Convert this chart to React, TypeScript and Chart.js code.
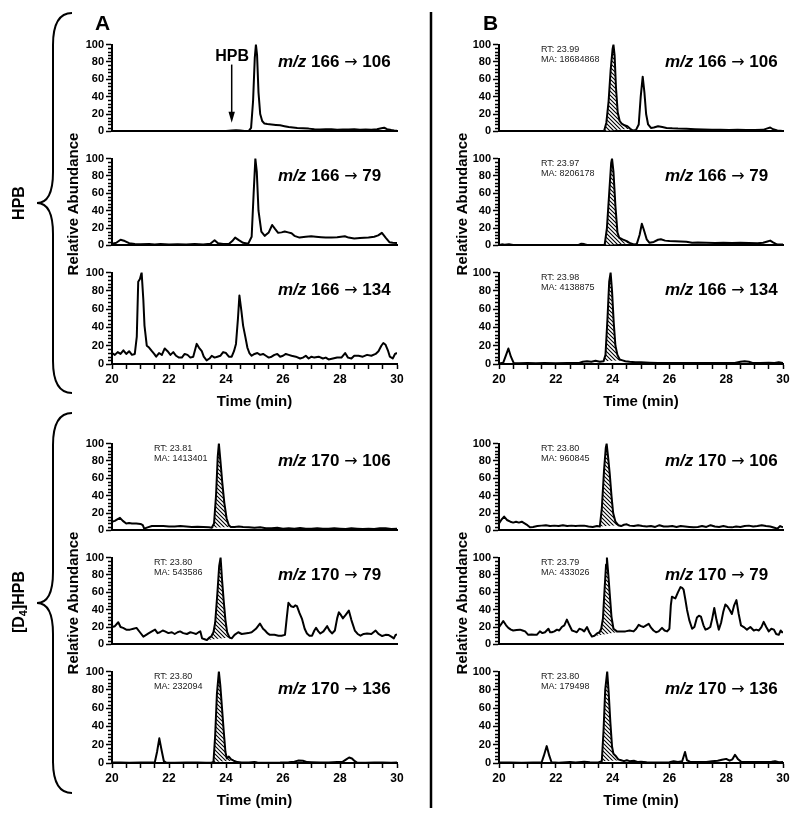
import React, { useEffect, useRef } from "react";
import { Chart, registerables } from "chart.js";

Chart.register(...registerables);
Chart.defaults.font.family = "'Liberation Sans', Arial, sans-serif";
Chart.defaults.color = "#000";

type Pt = [number, number];

// ---------- axis definitions ----------
const TIME_MIN = 20;
const TIME_MAX = 30;
const X_TICK_VALUES = [20, 20.5, 21, 21.5, 22, 22.5, 23, 23.5, 24, 24.5, 25, 25.5, 26, 26.5, 27, 27.5, 28, 28.5, 29, 29.5, 30];
const X_LABEL_TICKS = [20, 22, 24, 26, 28, 30];
const Y_TICK_VALUES = [0, 20, 40, 60, 80, 100];
const Y_MINOR_TICKS = [4, 8, 12, 16, 24, 28, 32, 36, 44, 48, 52, 56, 64, 68, 72, 76, 84, 88, 92, 96];

// ---------- data: column A (sample) ----------
const A_166_106: Pt[] = [[20,0.4],[20.5,0.3],[21,0.4],[21.5,0.3],[22,0.4],[22.5,0.3],[23,0.4],[23.5,0.4],[24,0.5],[24.2,0.9],[24.35,1.3],[24.5,1.0],[24.65,0.5],[24.8,0.6],[24.88,4],[24.95,35],[25.01,85],[25.05,100],[25.09,88],[25.14,45],[25.2,20],[25.27,12],[25.35,9],[25.45,8.5],[25.6,8],[25.75,7.5],[25.9,7],[26.05,6],[26.2,5],[26.35,4.5],[26.5,4],[26.7,3.6],[26.9,3.2],[27.1,2.6],[27.3,2.2],[27.5,2.6],[27.7,2.4],[27.9,2.0],[28.1,2.3],[28.3,2.1],[28.5,2.6],[28.7,2.0],[28.9,2.2],[29.1,2.0],[29.3,2.4],[29.45,3.6],[29.55,4.2],[29.65,2.6],[29.8,1.5],[29.9,1.0],[30,0.8]];
const A_166_79: Pt[] = [[20,2],[20.15,3],[20.3,6.5],[20.45,5],[20.6,2.5],[20.8,1.5],[21,1.2],[21.3,1.5],[21.5,1],[21.7,1.5],[22,1],[22.3,1.3],[22.6,1],[22.9,1.5],[23.2,1],[23.45,2],[23.6,6],[23.72,2.5],[23.9,1.5],[24.1,1.5],[24.22,5],[24.32,9],[24.45,6],[24.6,3],[24.78,2],[24.9,10],[24.97,60],[25.03,100],[25.08,85],[25.14,40],[25.24,16],[25.36,11],[25.5,15],[25.62,23.5],[25.72,19],[25.83,14.5],[25.95,15],[26.06,16],[26.18,15],[26.3,14],[26.4,11],[26.58,9],[26.8,10],[26.99,10.5],[27.15,10],[27.34,9.5],[27.5,9],[27.7,9],[27.9,9.5],[28.17,10.5],[28.3,9],[28.5,8],[28.7,8.5],[29.0,9],[29.2,10],[29.34,11.5],[29.47,14.5],[29.6,9],[29.74,3.6],[29.85,3],[30,2.8]];
const A_166_134: Pt[] = [[20,12],[20.1,10],[20.2,13],[20.3,11],[20.4,15],[20.5,11],[20.6,14],[20.7,10],[20.8,11],[20.87,30],[20.92,90],[20.98,93],[21.04,100],[21.1,70],[21.14,42],[21.22,20],[21.3,18],[21.4,14],[21.48,11],[21.55,8],[21.65,12],[21.75,10],[21.85,17],[21.95,14],[22.05,10],[22.15,13],[22.25,9],[22.35,7],[22.45,7],[22.55,11],[22.65,10],[22.75,7],[22.85,8],[22.97,22],[23.05,18],[23.15,14],[23.22,8],[23.32,4],[23.42,6],[23.5,9],[23.6,7],[23.7,8],[23.8,9],[23.9,13],[24.0,12],[24.1,8],[24.2,8],[24.28,14],[24.35,22],[24.42,50],[24.47,75],[24.54,58],[24.6,42],[24.67,31],[24.75,18],[24.82,12],[24.9,9],[25.0,11],[25.1,12],[25.2,10],[25.3,11],[25.4,9],[25.5,7],[25.6,8],[25.7,10],[25.8,11],[25.9,8],[26.0,9],[26.1,11],[26.2,10],[26.3,9],[26.45,8],[26.6,6],[26.7,7],[26.8,9],[26.9,6],[27.0,8],[27.1,7],[27.25,8],[27.4,6],[27.5,7],[27.6,5],[27.75,6],[27.9,7],[28.05,7],[28.18,12],[28.28,7],[28.4,6],[28.5,9],[28.65,9],[28.8,8],[28.95,10],[29.1,9],[29.25,11],[29.35,14],[29.45,20],[29.52,23],[29.6,21],[29.68,15],[29.75,8],[29.85,6],[29.93,11],[30,12]];
const A_170_106: Pt[] = [[20,10],[20.1,11],[20.2,13],[20.28,14.5],[20.38,11],[20.5,8],[20.6,8.5],[20.7,8],[20.85,8],[21.0,7.5],[21.08,6],[21.13,2],[21.25,3.5],[21.4,5],[21.6,5],[21.8,5],[22.0,4.5],[22.2,4.5],[22.4,5],[22.6,4.5],[22.8,4],[23.0,4.2],[23.2,4],[23.4,3.5],[23.5,3],[23.58,8],[23.65,40],[23.71,85],[23.75,100],[23.8,82],[23.87,55],[23.94,32],[24.02,14],[24.1,6],[24.17,4],[24.3,4],[24.45,4.5],[24.6,4],[24.8,3.5],[25.0,3],[25.2,3.5],[25.4,2.5],[25.6,2.5],[25.8,3],[26.0,2],[26.2,2.5],[26.4,2],[26.6,2.8],[26.8,2],[27.0,2],[27.2,2.5],[27.4,2],[27.6,1.8],[27.8,2.5],[28.0,2],[28.2,1.5],[28.4,2.5],[28.6,2],[28.8,1.5],[29.0,2],[29.2,1.5],[29.4,2.5],[29.6,2.5],[29.8,1.5],[30,2]];
const A_170_79: Pt[] = [[20,20],[20.1,21],[20.22,25.5],[20.3,20],[20.39,19],[20.5,17],[20.63,17],[20.75,18],[20.86,19],[20.98,14],[21.1,9],[21.2,11],[21.28,12.6],[21.4,15],[21.51,17],[21.6,13],[21.68,14],[21.78,16],[21.86,15],[21.98,13],[22.1,14],[22.2,12],[22.3,14],[22.39,15],[22.5,13],[22.63,12],[22.75,14],[22.86,13],[22.95,12],[23.04,14],[23.1,15],[23.16,7],[23.25,6],[23.33,5],[23.42,8],[23.48,9],[23.56,14],[23.62,25],[23.7,60],[23.76,90],[23.81,100],[23.86,75],[23.92,50],[23.98,28],[24.04,14],[24.12,8],[24.2,7],[24.3,11],[24.43,14],[24.55,12],[24.67,12.6],[24.78,13],[24.9,14],[25.05,18],[25.19,24],[25.3,18],[25.37,16],[25.45,13],[25.54,11],[25.7,11],[25.84,10],[25.95,10],[26.07,11],[26.13,30],[26.19,48],[26.28,44],[26.37,43],[26.43,45],[26.49,44],[26.58,36],[26.67,29],[26.76,18],[26.84,12.6],[26.93,10],[27.02,10],[27.1,16],[27.16,19],[27.24,15],[27.31,12.6],[27.42,15],[27.55,21],[27.63,16],[27.72,12.6],[27.82,16],[27.9,30],[27.96,37],[28.03,34],[28.1,30],[28.2,34],[28.31,39],[28.4,28],[28.52,16],[28.62,12],[28.72,10],[28.83,12],[28.95,12.6],[29.1,12],[29.25,16],[29.35,12],[29.48,9.6],[29.6,11],[29.71,10.7],[29.8,9],[29.89,7],[29.95,11],[30,11.5]];
const A_170_136: Pt[] = [[20,0.5],[20.3,0.5],[20.6,0.4],[21.0,0.5],[21.3,0.5],[21.5,0.6],[21.58,12],[21.66,27],[21.74,14],[21.82,2],[21.9,0.5],[22.2,0.4],[22.6,0.5],[23.0,0.5],[23.3,0.4],[23.5,0.5],[23.56,1],[23.62,30],[23.68,75],[23.75,100],[23.8,85],[23.86,60],[23.92,35],[23.98,12],[24.03,5],[24.1,7],[24.18,4],[24.27,2.5],[24.4,1],[24.55,0.5],[24.8,0.5],[25.0,1.2],[25.1,0.5],[25.5,0.4],[25.9,0.5],[26.2,0.8],[26.4,1.5],[26.55,2.8],[26.7,2.5],[26.85,1],[27.0,0.8],[27.3,0.5],[27.6,0.6],[27.9,1.2],[28.1,1.5],[28.22,4],[28.32,6],[28.42,5],[28.52,2],[28.6,0.5],[28.9,0.4],[29.2,0.5],[29.5,0.5],[29.8,0.4],[30,0.5]];

// ---------- data: column B (standard) ----------
const B_166_106: Pt[] = [[20,0.3],[20.5,0.3],[21,0.3],[21.5,0.3],[22,0.3],[22.5,0.3],[23,0.3],[23.5,0.3],[23.7,0.5],[23.78,10],[23.86,35],[23.93,70],[24.0,95],[24.03,100],[24.07,88],[24.12,50],[24.18,22],[24.25,12],[24.32,9],[24.42,7],[24.52,6],[24.62,3],[24.72,1],[24.82,1.5],[24.92,8],[24.99,40],[25.06,63],[25.12,45],[25.18,20],[25.25,8],[25.35,4],[25.45,4.5],[25.6,6],[25.75,5],[25.9,4],[26.1,3.5],[26.3,3.2],[26.6,3],[26.9,2.5],[27.2,2.2],[27.5,2],[27.8,1.8],[28.1,1.5],[28.4,1.8],[28.7,1.5],[29.0,1.6],[29.3,1.8],[29.45,3.5],[29.55,4.5],[29.65,2.5],[29.8,1],[30,0.5]];
const B_166_79: Pt[] = [[20,0.5],[20.1,1.2],[20.2,0.8],[20.35,1.2],[20.5,0.5],[21,0.4],[21.5,0.4],[22,0.4],[22.5,0.4],[22.8,0.6],[22.9,2],[23.0,1.5],[23.1,0.5],[23.5,0.4],[23.72,0.5],[23.8,20],[23.88,60],[23.95,95],[23.98,100],[24.03,85],[24.1,45],[24.17,15],[24.23,9],[24.35,7],[24.5,5],[24.62,2.5],[24.75,1],[24.85,1.5],[24.95,12],[25.03,25],[25.1,18],[25.2,7],[25.3,3],[25.45,4],[25.6,6.5],[25.7,7],[25.85,5.5],[26.0,5],[26.2,4.8],[26.4,4.5],[26.6,4.2],[26.8,3],[27.0,3.2],[27.3,3],[27.6,2.8],[27.9,3],[28.2,2.8],[28.5,3],[28.8,2.8],[29.1,2.5],[29.3,3],[29.45,4.5],[29.55,5.5],[29.65,3.5],[29.8,1],[30,1]];
const B_166_134: Pt[] = [[20,0.5],[20.15,1.5],[20.25,10],[20.33,17],[20.42,8],[20.52,1],[20.7,0.8],[21,1],[21.3,0.8],[21.6,1],[22,0.8],[22.4,1],[22.8,1],[22.95,2.5],[23.1,3],[23.25,2.5],[23.4,3.5],[23.55,2.5],[23.68,3],[23.75,10],[23.82,50],[23.88,90],[23.93,100],[23.98,80],[24.04,45],[24.1,20],[24.17,10],[24.25,5],[24.35,4],[24.45,3],[24.6,2.5],[24.8,2],[25.0,2],[25.3,1.5],[25.6,1],[26,1],[26.4,1],[26.8,1],[27.2,1],[27.6,1],[28.0,1],[28.3,1.2],[28.5,2.5],[28.65,3],[28.8,2.5],[28.95,1],[29.2,1],[29.5,1.5],[29.7,1],[29.85,1.8],[30,1]];
const B_170_106: Pt[] = [[20,8],[20.08,12],[20.18,16],[20.28,12],[20.4,10],[20.5,9],[20.6,10],[20.7,9],[20.8,10],[20.9,8],[21.0,6],[21.09,3.5],[21.2,4],[21.35,5],[21.5,5.5],[21.65,6],[21.8,5],[21.95,5.5],[22.1,5],[22.25,6],[22.4,5],[22.55,5.5],[22.7,5],[22.85,5.5],[23.0,5.5],[23.15,4.5],[23.3,4],[23.45,5],[23.55,4.5],[23.62,25],[23.7,70],[23.76,95],[23.79,100],[23.84,85],[23.9,65],[23.96,40],[24.02,20],[24.1,10],[24.2,6],[24.3,5],[24.4,6.5],[24.5,7],[24.6,5.5],[24.75,5],[24.9,6],[25.05,5],[25.2,4.5],[25.35,5],[25.5,4],[25.65,6],[25.8,4.5],[25.95,4.5],[26.1,5],[26.25,4],[26.4,5],[26.55,4.5],[26.7,4],[26.85,3.5],[27.0,4],[27.15,5],[27.3,4],[27.45,6],[27.6,4.5],[27.75,4],[27.9,5],[28.05,4],[28.2,3.5],[28.35,4.5],[28.5,4],[28.65,5],[28.8,5.5],[28.95,4.5],[29.1,5],[29.25,6],[29.4,5],[29.55,4.5],[29.7,3],[29.8,2],[29.9,5],[30,3.5]];
const B_170_79: Pt[] = [[20,20],[20.07,23],[20.15,27],[20.25,22],[20.33,19],[20.42,17],[20.5,16],[20.62,16.5],[20.74,17],[20.83,16],[20.92,15],[21.03,11],[21.15,11.5],[21.25,11],[21.33,11],[21.44,15],[21.53,13],[21.62,14],[21.74,18],[21.8,14],[21.86,14],[21.95,15],[22.04,17],[22.12,16],[22.21,20],[22.3,22],[22.39,28.5],[22.48,22],[22.57,16],[22.66,15],[22.74,14],[22.83,18],[22.92,17],[23.0,15],[23.1,20],[23.18,14],[23.27,9],[23.36,10],[23.45,12.6],[23.54,14],[23.6,18],[23.66,30],[23.72,65],[23.77,92],[23.8,100],[23.85,80],[23.9,58],[23.96,32],[24.03,18],[24.15,15],[24.3,15],[24.45,15],[24.6,16],[24.74,15],[24.83,18],[24.92,22.6],[25.0,21],[25.09,20],[25.18,22],[25.27,23.7],[25.36,19],[25.44,16],[25.53,14],[25.62,15],[25.68,17],[25.74,19],[25.83,16],[25.92,15],[26.0,18],[26.05,45],[26.09,55],[26.15,54],[26.21,53],[26.3,60],[26.39,66],[26.45,65],[26.5,63],[26.56,52],[26.62,40],[26.7,28],[26.8,18],[26.88,20],[26.97,31],[27.04,33],[27.11,32],[27.2,22],[27.27,17],[27.35,18],[27.44,20],[27.51,30],[27.58,42],[27.66,28],[27.74,17],[27.82,25],[27.9,38],[27.97,46],[28.04,44],[28.12,40],[28.2,35],[28.28,45],[28.36,51],[28.44,35],[28.52,22],[28.62,20],[28.73,17],[28.85,20],[28.97,16],[29.06,17],[29.15,16],[29.24,20],[29.32,26],[29.41,20],[29.5,15],[29.59,18],[29.68,17],[29.76,12],[29.85,11],[29.92,16],[29.97,14],[30,14]];
const B_170_136: Pt[] = [[20,0.5],[20.4,0.5],[20.8,0.4],[21.2,0.5],[21.5,0.6],[21.58,8],[21.68,18.5],[21.77,8],[21.85,0.8],[22.1,0.4],[22.5,1],[22.7,0.5],[23.0,1.5],[23.2,0.8],[23.5,0.5],[23.62,2],[23.68,35],[23.74,80],[23.81,100],[23.86,78],[23.92,45],[23.98,18],[24.03,10],[24.1,8],[24.2,4],[24.3,3],[24.4,2],[24.5,3],[24.6,2],[24.75,2.5],[24.9,1],[25.0,1.5],[25.2,0.8],[25.5,0.5],[25.8,0.5],[26.0,0.8],[26.15,2],[26.3,1],[26.45,2],[26.55,12],[26.62,3],[26.75,1],[27.0,1],[27.3,1.2],[27.5,2],[27.7,2.5],[27.85,3.5],[28.0,4.5],[28.12,2.5],[28.22,4],[28.31,9],[28.42,4],[28.52,1.5],[28.8,1],[29.1,1],[29.4,1],[29.6,1.5],[29.72,2],[29.85,0.8],[30,1]];

// integrated peak windows (minutes); the hatch runs between the trace and the straight line joining the window ends
const HATCH_A: ([number, number] | null)[] = [null, null, null, [23.5, 24.17], [23.33, 24.12], [23.56, 24.27]];
const HATCH_B: ([number, number] | null)[] = [[23.7, 24.62], [23.72, 24.62], [23.68, 24.35], [23.55, 24.2], [23.27, 24.3], [23.62, 24.3]];

// transition labels
const PRECURSORS = ["166", "166", "166", "170", "170", "170"];
const PRODUCTS = ["106", "79", "134", "106", "79", "136"];

// peak annotations
const RT_A = [null, null, null, "23.81", "23.80", "23.80"];
const MA_A = [null, null, null, "1413401", "543586", "232094"];
const RT_B = ["23.99", "23.97", "23.98", "23.80", "23.79", "23.80"];
const MA_B = ["18684868", "8206178", "4138875", "960845", "433026", "179498"];

// HPB arrow marker (panel A, m/z 166 -> 106)
const HPB_ARROW_TIME = 24.2;
const HPB_ARROW_TOP = 77;
const HPB_ARROW_TIP = 10;
const HPB_LABEL_Y = 81;

// ---------- layout ----------
const COL_LEFT = [112, 499];
const COL_WIDTH = [285, 284];
const ROW_TOP = [44, 158, 272, 443, 557, 671];
const PLOT_H = 92;
const Y_AXIS_W = 40;
const PAD_T = 8;
const PAD_R = 12;
const X_AXIS_H = 26;

type PanelDef = {
  col: number;
  row: number;
  data: Pt[];
  hatch: [number, number] | null;
  arrow: boolean;
};

const DATA_A = [A_166_106, A_166_79, A_166_134, A_170_106, A_170_79, A_170_136];
const DATA_B = [B_166_106, B_166_79, B_166_134, B_170_106, B_170_79, B_170_136];

const PANELS: PanelDef[] = [
  ...DATA_A.map((d, i) => ({ col: 0, row: i, data: d, hatch: HATCH_A[i], arrow: i === 0 })),
  ...DATA_B.map((d, i) => ({ col: 1, row: i, data: d, hatch: HATCH_B[i], arrow: false })),
];

function makeHatch(ctx: CanvasRenderingContext2D): CanvasPattern | string {
  const c = document.createElement("canvas");
  c.width = 4;
  c.height = 4;
  const g = c.getContext("2d");
  if (!g) return "#888";
  g.fillStyle = "#fff";
  g.fillRect(0, 0, 4, 4);
  g.strokeStyle = "#000";
  g.lineWidth = 1.1;
  g.beginPath();
  g.moveTo(-1, -1);
  g.lineTo(5, 5);
  g.moveTo(-1, 3);
  g.lineTo(1, 5);
  g.moveTo(3, -1);
  g.lineTo(5, 1);
  g.stroke();
  return ctx.createPattern(c, "repeat") || "#888";
}

const minorTicksPlugin = {
  id: "minorTicks",
  afterDraw(chart: any) {
    const ctx: CanvasRenderingContext2D = chart.ctx;
    const y = chart.scales.y;
    ctx.save();
    ctx.strokeStyle = "#000";
    ctx.lineWidth = 1.3;
    ctx.beginPath();
    for (const v of Y_MINOR_TICKS) {
      const py = Math.round(y.getPixelForValue(v)) + 0.5;
      ctx.moveTo(y.right - 4, py);
      ctx.lineTo(y.right, py);
    }
    ctx.stroke();
    ctx.restore();
  },
};

const arrowPlugin = {
  id: "hpbArrow",
  afterDraw(chart: any) {
    const ctx: CanvasRenderingContext2D = chart.ctx;
    const x = chart.scales.x.getPixelForValue(HPB_ARROW_TIME);
    const y0 = chart.scales.y.getPixelForValue(HPB_ARROW_TOP);
    const y1 = chart.scales.y.getPixelForValue(HPB_ARROW_TIP);
    const yl = chart.scales.y.getPixelForValue(HPB_LABEL_Y);
    ctx.save();
    ctx.strokeStyle = "#000";
    ctx.fillStyle = "#000";
    ctx.lineWidth = 1.5;
    ctx.beginPath();
    ctx.moveTo(x, y0);
    ctx.lineTo(x, y1 - 8);
    ctx.stroke();
    ctx.beginPath();
    ctx.moveTo(x - 3.2, y1 - 11);
    ctx.lineTo(x + 3.2, y1 - 11);
    ctx.lineTo(x, y1);
    ctx.closePath();
    ctx.fill();
    ctx.font = "bold 16px 'Liberation Sans', Arial, sans-serif";
    ctx.textAlign = "center";
    ctx.textBaseline = "alphabetic";
    ctx.fillText("HPB", x + 0.5, yl);
    ctx.restore();
  },
};

function Panel({ p }: { p: PanelDef }) {
  const ref = useRef<HTMLCanvasElement>(null);
  const bottom = p.row === 2 || p.row === 5;
  const W = Y_AXIS_W + COL_WIDTH[p.col] + PAD_R;
  const H = PAD_T + PLOT_H + (bottom ? X_AXIS_H : 4);
  const left = COL_LEFT[p.col] - Y_AXIS_W;
  const top = ROW_TOP[p.row] - PAD_T;

  useEffect(() => {
    const canvas = ref.current;
    if (!canvas) return;
    const ctx = canvas.getContext("2d");
    if (!ctx) return;
    const pattern = makeHatch(ctx);
    const pts = p.data.map(([x, y]) => ({ x, y }));
    const datasets: any[] = [
      {
        data: pts,
        borderColor: "#000",
        borderWidth: 2,
        pointRadius: 0,
        fill: false,
        tension: 0,
        borderJoinStyle: "round",
      },
    ];
    if (p.hatch) {
      const [h0, h1] = p.hatch;
      const hp = p.data.filter(([x]) => x >= h0 - 1e-9 && x <= h1 + 1e-9).map(([x, y]) => ({ x, y }));
      datasets.push({
        data: hp,
        borderWidth: 0,
        borderColor: "rgba(0,0,0,0)",
        backgroundColor: pattern,
        pointRadius: 0,
        fill: "shape",
        tension: 0,
      });
    }
    const plugins: any[] = [minorTicksPlugin];
    if (p.arrow) plugins.push(arrowPlugin);

    const chart = new Chart(canvas, {
      type: "line",
      data: { datasets },
      options: {
        responsive: false,
        animation: false,
        events: [],
        layout: { padding: { top: PAD_T, right: PAD_R, left: 0, bottom: 0 } },
        plugins: {
          legend: { display: false },
          tooltip: { enabled: false },
        },
        scales: {
          x: {
            type: "linear",
            min: TIME_MIN,
            max: TIME_MAX,
            afterBuildTicks: (s: any) => {
              s.ticks = X_TICK_VALUES.map((v) => ({ value: v }));
            },
            afterFit: (s: any) => {
              s.height = bottom ? X_AXIS_H : 4;
            },
            grid: {
              display: true,
              drawOnChartArea: false,
              drawTicks: bottom,
              tickLength: 5,
              tickColor: "#000",
              tickWidth: 1.5,
            },
            border: { display: true, color: "#000", width: 2 },
            ticks: {
              display: bottom,
              autoSkip: false,
              maxRotation: 0,
              padding: 3,
              color: "#000",
              font: { size: 12, weight: "bold" },
              callback: (v: any) => (X_LABEL_TICKS.includes(Number(v)) ? String(v) : ""),
            },
          },
          y: {
            min: 0,
            max: 100,
            afterBuildTicks: (s: any) => {
              s.ticks = Y_TICK_VALUES.map((v) => ({ value: v }));
            },
            afterFit: (s: any) => {
              s.width = Y_AXIS_W;
            },
            grid: {
              display: true,
              drawOnChartArea: false,
              drawTicks: true,
              tickLength: 6,
              tickColor: "#000",
              tickWidth: 1.5,
            },
            border: { display: true, color: "#000", width: 2 },
            ticks: {
              padding: 2,
              color: "#000",
              font: { size: 11, weight: "bold" },
            },
          },
        },
      } as any,
      plugins,
    });
    return () => chart.destroy();
  }, []);

  return (
    <canvas
      ref={ref}
      width={W}
      height={H}
      style={{ position: "absolute", left, top, width: W, height: H }}
    />
  );
}

const FONT = "'Liberation Sans', Arial, sans-serif";

function Overlay() {
  const titles: React.ReactNode[] = [];
  for (let col = 0; col < 2; col++) {
    for (let row = 0; row < 6; row++) {
      const x = COL_LEFT[col] + 166;
      const y = ROW_TOP[row] + 23;
      titles.push(
        <text key={`t${col}${row}`} x={x} y={y} fontSize={17} fontWeight="bold" fontFamily={FONT}>
          <tspan fontStyle="italic">m/z</tspan> {PRECURSORS[row]}{" "}
          <tspan fontFamily="'DejaVu Sans', sans-serif" fontWeight="normal" fontSize={16}>→</tspan>{" "}
          {PRODUCTS[row]}
        </text>
      );
      const rt = col === 0 ? RT_A[row] : RT_B[row];
      const ma = col === 0 ? MA_A[row] : MA_B[row];
      if (rt && ma) {
        const ax = COL_LEFT[col] + 42;
        titles.push(
          <text key={`r${col}${row}`} x={ax} y={ROW_TOP[row] + 8} fontSize={9} fontFamily={FONT} fill="#222">
            RT: {rt}
          </text>,
          <text key={`m${col}${row}`} x={ax} y={ROW_TOP[row] + 18} fontSize={9} fontFamily={FONT} fill="#222">
            MA: {ma}
          </text>
        );
      }
    }
  }
  const yTitle = (x: number, y: number, k: string) => (
    <text key={k} transform={`translate(${x},${y}) rotate(-90)`} textAnchor="middle" fontSize={15} fontWeight="bold" fontFamily={FONT}>
      Relative Abundance
    </text>
  );
  const xTitle = (x: number, y: number, k: string) => (
    <text key={k} x={x} y={y} textAnchor="middle" fontSize={15} fontWeight="bold" fontFamily={FONT}>
      Time (min)
    </text>
  );
  const brace = (y0: number, ym: number, y1: number, k: string) => (
    <path
      key={k}
      d={`M 72 ${y0} Q 53 ${y0} 53 ${y0 + 32} L 53 ${ym - 31} Q 53 ${ym} 37 ${ym} Q 53 ${ym} 53 ${ym + 31} L 53 ${y1 - 32} Q 53 ${y1} 72 ${y1}`}
      fill="none"
      stroke="#000"
      strokeWidth={2}
    />
  );
  return (
    <svg width={800} height={818} style={{ position: "absolute", left: 0, top: 0, pointerEvents: "none" }}>
      <line x1={431} y1={12} x2={431} y2={808} stroke="#000" strokeWidth={2.5} />
      <text x={95} y={30} fontSize={21} fontWeight="bold" fontFamily={FONT}>A</text>
      <text x={483} y={30} fontSize={21} fontWeight="bold" fontFamily={FONT}>B</text>
      {brace(13, 203, 393, "b1")}
      {brace(413, 603, 793, "b2")}
      <text transform="translate(24,203) rotate(-90)" textAnchor="middle" fontSize={16} fontWeight="bold" fontFamily={FONT}>
        HPB
      </text>
      <text transform="translate(24,602) rotate(-90)" textAnchor="middle" fontSize={16} fontWeight="bold" fontFamily={FONT}>
        [D<tspan fontSize={11} dy={3}>4</tspan><tspan dy={-3}>]HPB</tspan>
      </text>
      {yTitle(78, 204, "ya1")}
      {yTitle(78, 603, "ya2")}
      {yTitle(467, 204, "yb1")}
      {yTitle(467, 603, "yb2")}
      {xTitle(COL_LEFT[0] + COL_WIDTH[0] / 2, 406, "xa1")}
      {xTitle(COL_LEFT[0] + COL_WIDTH[0] / 2, 805, "xa2")}
      {xTitle(COL_LEFT[1] + COL_WIDTH[1] / 2, 406, "xb1")}
      {xTitle(COL_LEFT[1] + COL_WIDTH[1] / 2, 805, "xb2")}
      {titles}
    </svg>
  );
}

export default function App() {
  return (
    <div style={{ position: "absolute", left: 0, top: 0, width: 800, height: 818, background: "#fff", overflow: "hidden" }}>
      {PANELS.map((p, i) => (
        <Panel key={i} p={p} />
      ))}
      <Overlay />
    </div>
  );
}
